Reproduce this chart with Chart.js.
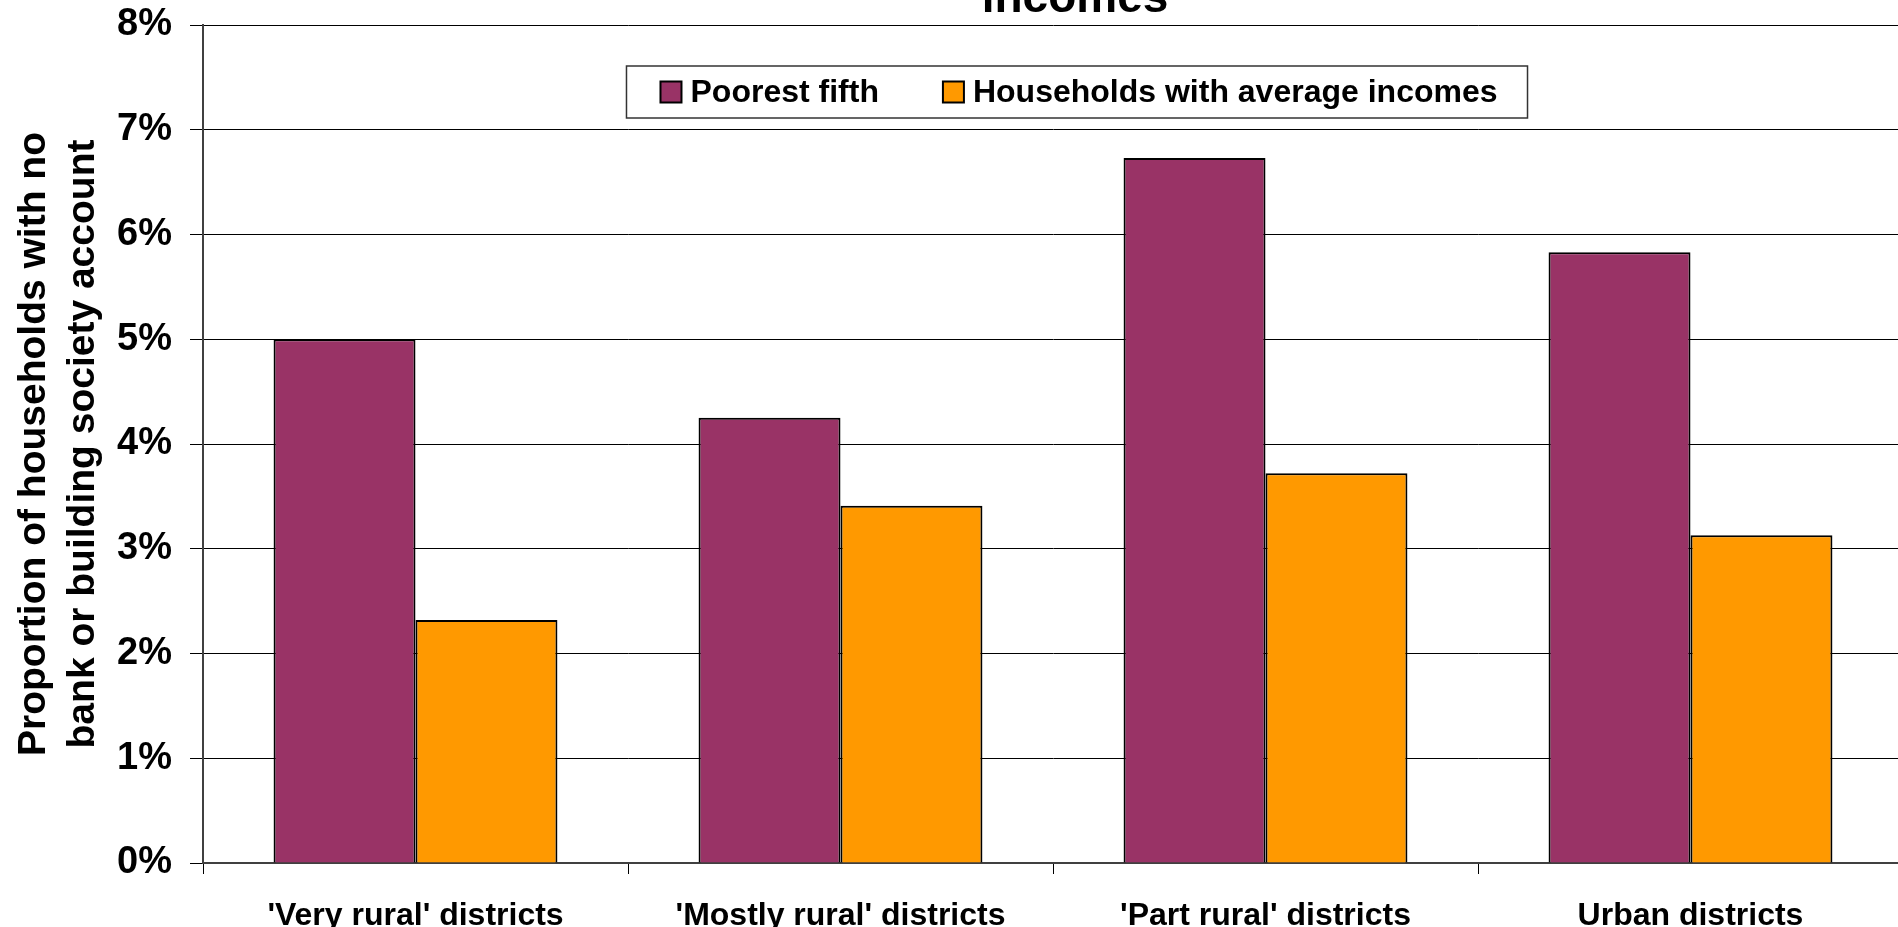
<!DOCTYPE html>
<html>
<head>
<meta charset="utf-8">
<script src="https://cdn.jsdelivr.net/npm/chart.js@4.4.1/dist/chart.umd.min.js"></script>
<style>
    html, body { margin: 0; padding: 0; background: #fff; overflow: hidden; }
    #wrap { position: relative; width: 1898px; height: 927px; overflow: hidden; }
    #barChart { position: absolute; left: 0; top: 0; }
</style>
</head>
<body>
<div id="wrap"><canvas id="barChart" width="1960" height="927"></canvas></div>
<script>
const categories = ["'Very rural' districts", "'Mostly rural' districts", "'Part rural' districts", "Urban districts"];
const poorestFifth = [5.0, 4.25, 6.73, 5.83];
const averageIncomes = [2.32, 3.41, 3.72, 3.13];
const seriesNames = ['Poorest fifth', 'Households with average incomes'];
const yTicks = [0, 1, 2, 3, 4, 5, 6, 7, 8];
const titleText = 'incomes';
const yTitle = ['Proportion of households with no', 'bank or building society account'];

const FONT = "'Liberation Sans', Arial, sans-serif";

// titel (baris kedua saja yang kelihatan) + kotak legenda di dalam area plot
const boxPlugin = {
    id: 'boxPlugin',
    afterDraw(chart, args, opts) {
        const c = chart.ctx;
        c.save();
        c.fillStyle = '#000';
        c.font = 'bold 46px ' + FONT;
        c.textAlign = 'center';
        c.textBaseline = 'alphabetic';
        c.fillText(titleText, opts.titleX, opts.titleY);

        // legenda
        c.font = 'bold 32px ' + FONT;
        const ds = chart.data.datasets;
        const mk = 21, gap = 9, itemGap = 64, padL = 34, padR = 30;
        const widths = ds.map(d => c.measureText(d.label).width);
        let total = padL + padR + itemGap * (ds.length - 1);
        widths.forEach(w => total += mk + gap + w);
        const left = opts.legendX - total / 2;
        const top = opts.legendTop, h = opts.legendH;
        c.fillStyle = '#fff';
        c.fillRect(left, top, total, h);
        c.strokeStyle = '#333';
        c.lineWidth = 1.5;
        c.strokeRect(left, top, total, h);

        let x = left + padL;
        const cy = top + h / 2;
        c.textAlign = 'left';
        c.textBaseline = 'middle';
        ds.forEach((d, i) => {
            c.fillStyle = d.backgroundColor;
            c.fillRect(x, cy - mk / 2, mk, mk);
            c.strokeStyle = '#000';
            c.lineWidth = 2;
            c.strokeRect(x, cy - mk / 2, mk, mk);
            x += mk + gap;
            c.fillStyle = '#000';
            c.fillText(d.label, x, cy + 1);
            x += widths[i] + itemGap;
        });
        c.restore();
    }
};

const ctx = document.getElementById('barChart').getContext('2d');
const chart = new Chart(ctx, {
    type: 'bar',
    data: {
        labels: categories,
        datasets: [{
            label: seriesNames[0],
            data: poorestFifth,
            backgroundColor: '#993366',
            borderColor: '#000',
            borderWidth: 2
        }, {
            label: seriesNames[1],
            data: averageIncomes,
            backgroundColor: '#FF9900',
            borderColor: '#000',
            borderWidth: 2
        }]
    },
    options: {
        responsive: false,
        maintainAspectRatio: false,
        animation: false,
        devicePixelRatio: 1,
        layout: { padding: { left: 4, right: 57, top: 25, bottom: 0 } },
        datasets: {
            bar: { categoryPercentage: 0.668, barPercentage: 1.0 }
        },
        plugins: {
            legend: { display: false },
            title: { display: false },
            tooltip: { enabled: false },
            boxPlugin: { titleX: 1075, titleY: 12, legendX: 1077, legendTop: 66, legendH: 52 }
        },
        scales: {
            x: {
                afterFit: s => { s.height = 64; s.paddingLeft = 0; s.paddingRight = 0; },
                grid: { offset: true, drawOnChartArea: false, drawTicks: true, tickLength: 11, color: '#000', lineWidth: 1 },
                border: { display: true, color: '#404040', width: 2 },
                ticks: { color: '#000', padding: 23, maxRotation: 0, font: { family: FONT, size: 32, weight: 'bold' } }
            },
            y: {
                min: 0,
                max: 8,
                afterBuildTicks: axis => { axis.ticks = yTicks.map(v => ({ value: v })); },
                afterFit: s => { s.width = 199; s.paddingTop = 0; s.paddingBottom = 0; },
                grid: { color: '#000', lineWidth: 1, drawTicks: true, tickLength: 13 },
                border: { display: true, color: '#404040', width: 2 },
                ticks: {
                    color: '#000',
                    padding: 18,
                    font: { family: FONT, size: 38, weight: 'bold' },
                    callback: v => v + '%'
                },
                title: {
                    display: true,
                    text: yTitle,
                    color: '#000',
                    font: { family: FONT, size: 39, weight: 'bold', lineHeight: 1.25 },
                    padding: { top: 6, bottom: 10 }
                }
            }
        }
    },
    plugins: [boxPlugin]
});
</script>
</body>
</html>
